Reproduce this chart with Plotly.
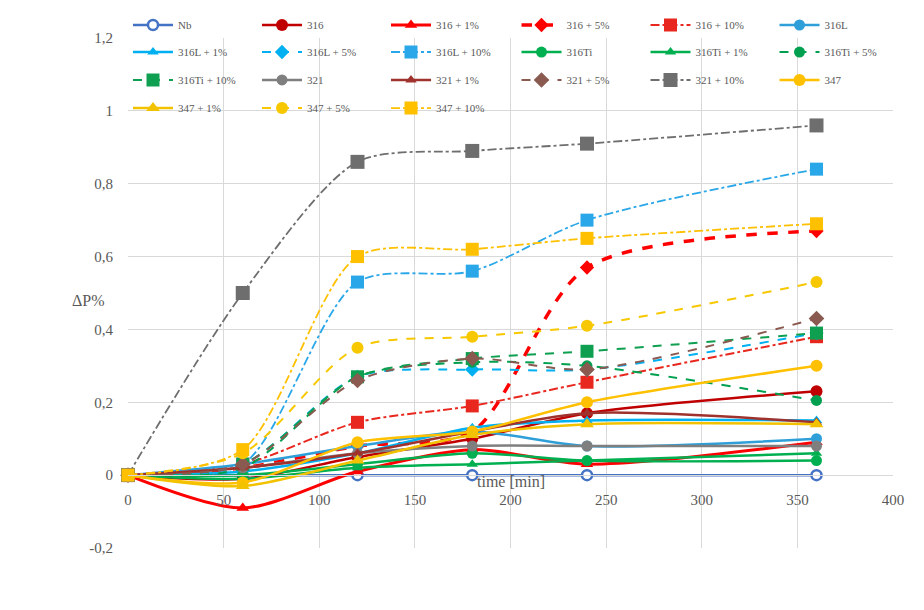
import plotly.graph_objects as go

time_min = [0, 60, 120, 180, 240, 360]

series_names = [
    "Nb", "316", "316 + 1%", "316 + 5%", "316 + 10%", "316L",
    "316L + 1%", "316L + 5%", "316L + 10%", "316Ti", "316Ti + 1%", "316Ti + 5%",
    "316Ti + 10%", "321", "321 + 1%", "321 + 5%", "321 + 10%", "347",
    "347 + 1%", "347 + 5%", "347 + 10%",
]

nb = [0, 0, 0, 0, 0, 0]
s316 = [0, -0.01, 0.05, 0.10, 0.17, 0.23]
s316_1 = [0, -0.09, 0.01, 0.07, 0.03, 0.09]
s316_5 = [0, 0.02, 0.08, 0.12, 0.57, 0.67]
s316_10 = [0, 0.03, 0.145, 0.19, 0.255, 0.38]
s316l = [0, 0.03, 0.08, 0.12, 0.08, 0.10]
s316l_1 = [0, 0.01, 0.06, 0.13, 0.15, 0.15]
s316l_5 = [0, 0.03, 0.27, 0.29, 0.29, 0.39]
s316l_10 = [0, 0.03, 0.53, 0.56, 0.70, 0.84]
s316ti = [0, 0.0, 0.03, 0.06, 0.04, 0.04]
s316ti_1 = [0, -0.01, 0.02, 0.03, 0.04, 0.06]
s316ti_5 = [0, 0.02, 0.27, 0.31, 0.30, 0.205]
s316ti_10 = [0, 0.03, 0.27, 0.32, 0.34, 0.39]
s321 = [0, 0.02, 0.06, 0.08, 0.08, 0.08]
s321_1 = [0, 0.02, 0.06, 0.12, 0.17, 0.145]
s321_5 = [0, 0.03, 0.26, 0.32, 0.29, 0.43]
s321_10 = [0, 0.50, 0.86, 0.89, 0.91, 0.96]
s347 = [0, -0.02, 0.09, 0.12, 0.20, 0.30]
s347_1 = [0, -0.03, 0.04, 0.11, 0.14, 0.14]
s347_5 = [0, 0.06, 0.35, 0.38, 0.41, 0.53]
s347_10 = [0, 0.07, 0.60, 0.62, 0.65, 0.69]

values = [nb, s316, s316_1, s316_5, s316_10, s316l,
          s316l_1, s316l_5, s316l_10, s316ti, s316ti_1, s316ti_5,
          s316ti_10, s321, s321_1, s321_5, s321_10, s347,
          s347_1, s347_5, s347_10]

# style: (color, dash, width, symbol, size)
styles = [
    ("#4472C4", "solid", 2.5, "circle-open", 10),
    ("#C00000", "solid", 2.5, "circle", 12),
    ("#FF0000", "solid", 3, "triangle-up", 11),
    ("#FF0000", "dash", 3.5, "diamond", 11),
    ("#E8281E", "dashdot", 2, "square", 13),
    ("#2E9FD8", "solid", 2.5, "circle", 11),
    ("#00B0F0", "solid", 2.5, "triangle-up", 10),
    ("#00B0F0", "dash", 2, "diamond", 11),
    ("#2AA7E8", "dashdot", 1.8, "square", 13),
    ("#00B050", "solid", 2.5, "circle", 11),
    ("#00B050", "solid", 2.5, "triangle-up", 10),
    ("#00A050", "dash", 2, "circle", 11),
    ("#0EA050", "dash", 2, "square", 13),
    ("#7F7F7F", "solid", 2.5, "circle", 11),
    ("#A0322D", "solid", 2.5, "triangle-up", 10),
    ("#8A5A50", "dash", 2, "diamond", 12),
    ("#6E6E6E", "dashdot", 1.8, "square", 14),
    ("#FFC000", "solid", 2.5, "circle", 12),
    ("#F2C200", "solid", 2.5, "triangle-up", 12),
    ("#F7C800", "dash", 2, "circle", 12),
    ("#FFC000", "dashdot", 1.8, "square", 13),
]

# legend is laid out as 4 rows x 6 columns; each row split in two 3-entry groups
row_y = [1.0235, 0.9706, 0.9159, 0.861]
col_step_px = 129.5
plot_w_px = 924 - 128 - 31

def legend_key(i):
    row, col = divmod(i, 6)
    half = col // 3
    idx = row * 2 + half
    return "legend" if idx == 0 else f"legend{idx + 1}"

fig = go.Figure()
for i, (name, vals, st) in enumerate(zip(series_names, values, styles)):
    color, dash, width, symbol, size = st
    mk = dict(symbol=symbol, size=size, color=color)
    if symbol.endswith("open"):
        mk = dict(symbol="circle", size=size, color="white", line=dict(color=color, width=2.5))
    fig.add_trace(go.Scatter(
        x=time_min, y=vals, name=name, mode="lines+markers",
        line=dict(color=color, dash=dash, width=width, shape="spline", smoothing=0.8),
        marker=mk, cliponaxis=False, legend=legend_key(i),
    ))

leg_common = dict(
    orientation="h", xanchor="left", yanchor="middle",
    entrywidth=74, entrywidthmode="pixels", itemwidth=40,
    font=dict(family="Liberation Serif", size=11, color="#595959"),
    bgcolor="rgba(255,255,255,0)", traceorder="normal",
)

layout_legends = {}
n_groups = (len(series_names) + 2) // 3
for g in range(n_groups):
    row, half = divmod(g, 2)
    key = "legend" if g == 0 else f"legend{g + 1}"
    layout_legends[key] = dict(leg_common, y=row_y[row],
                               x=half * 3 * col_step_px / plot_w_px)

y_ticks = [-0.2, 0, 0.2, 0.4, 0.6, 0.8, 1.0, 1.2]
y_ticktext = ["-0,2", "0", "0,2", "0,4", "0,6", "0,8", "1", "1,2"]
x_ticks = [0, 50, 100, 150, 200, 250, 300, 350, 400]

fig.update_layout(
    width=924, height=610,
    margin=dict(l=128, r=31, t=37, b=62),
    paper_bgcolor="white", plot_bgcolor="white",
    showlegend=True,
    font=dict(family="Liberation Serif", color="#595959"),
    xaxis=dict(
        range=[0, 400], tickvals=x_ticks, ticktext=[str(v) for v in x_ticks],
        showgrid=True, gridcolor="#D9D9D9", gridwidth=1,
        zeroline=False, showline=True, linecolor="#D9D9D9",
        anchor="free", position=0.2 / 1.4,
        tickfont=dict(family="Liberation Serif", size=15, color="#595959"),
        ticks="", fixedrange=True, ticklabelstandoff=11,
    ),
    yaxis=dict(
        range=[-0.2, 1.2], tickvals=y_ticks, ticktext=y_ticktext,
        showgrid=True, gridcolor="#D9D9D9", gridwidth=1,
        zeroline=False, showline=False,
        tickfont=dict(family="Liberation Serif", size=15, color="#595959"),
        ticks="", ticklabelstandoff=14,
    ),
    annotations=[
        dict(text="time [min]", x=200, y=-0.018, xref="x", yref="y",
             showarrow=False, font=dict(family="Liberation Serif", size=16, color="#595959")),
        dict(text="ΔP%", x=(88 - 128) / plot_w_px, y=(548 - 300) / 511,
             xref="paper", yref="paper", xanchor="center", yanchor="middle",
             showarrow=False, font=dict(family="Liberation Serif", size=16, color="#595959")),
    ],
    **layout_legends,
)

fig.write_html("out.html")
